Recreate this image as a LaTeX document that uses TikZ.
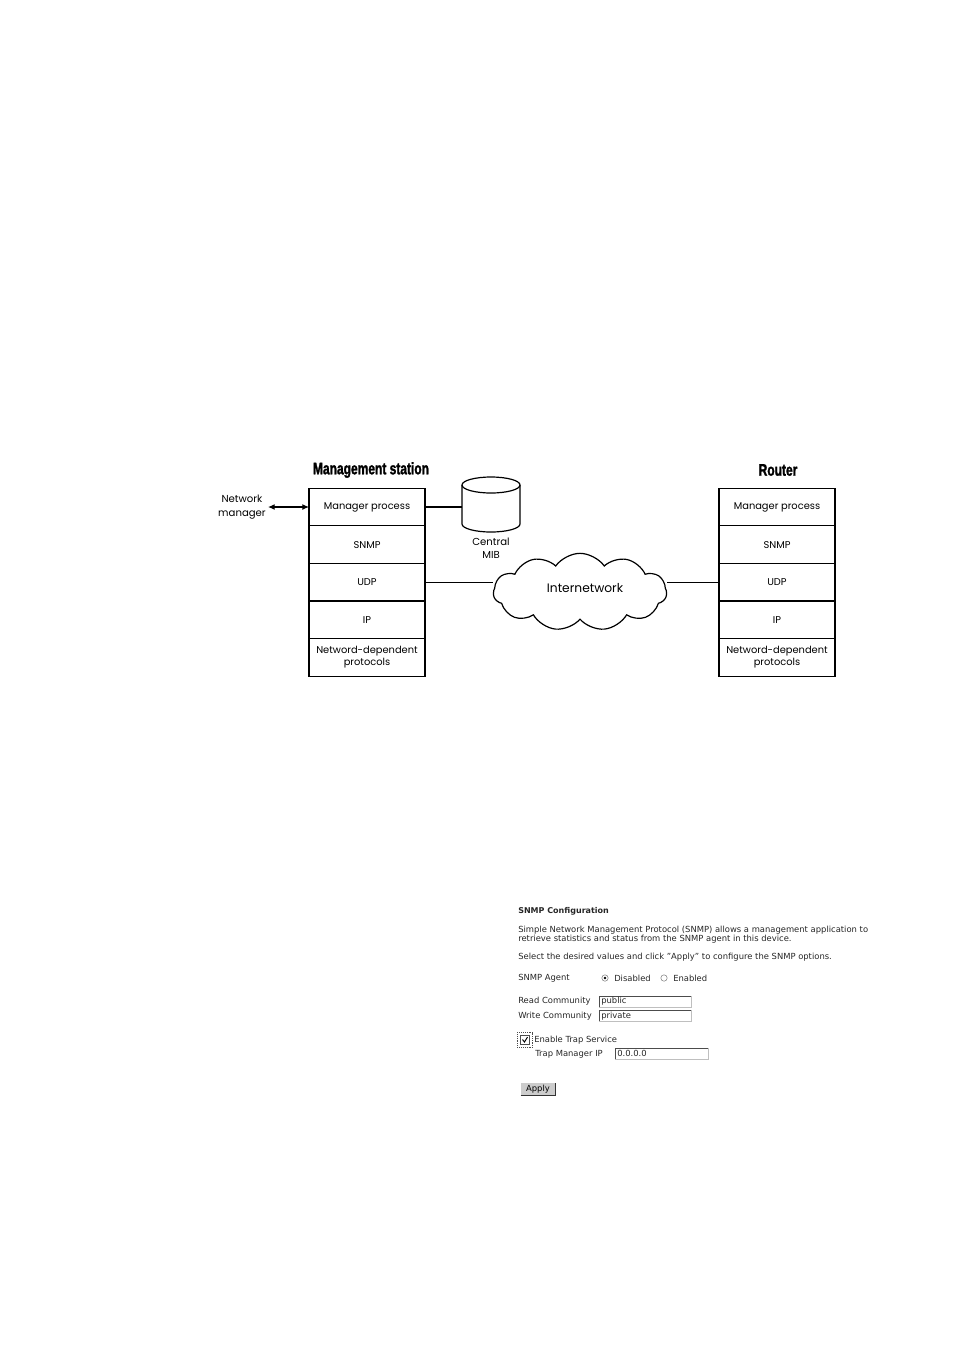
\documentclass[tikz,border=0pt]{standalone}
\usepackage{fontspec}
\setmainfont{DejaVu Sans}
\newfontfamily\gothfont{Poppins}
\newfontfamily\headfont[FakeStretch=0.72,FakeBold=1.6]{Liberation Sans Bold}
\usetikzlibrary{positioning,shapes.symbols,arrows.meta}

\tikzset{
  layer/.style={draw, line width=0.9pt, minimum width=87pt, minimum height=28.2pt,
    inner sep=0pt, outer sep=0pt, align=center,
    font=\gothfont\fontsize{7.4pt}{9pt}\selectfont},
  lbl/.style={inner sep=0pt, align=center, font=\gothfont\fontsize{7.6pt}{10pt}\selectfont},
  title/.style={inner sep=0pt, font=\headfont\fontsize{12.5pt}{14pt}\selectfont},
  link/.style={line width=0.9pt},
  ui/.style={inner sep=0pt, anchor=west, font=\fontsize{6.3pt}{7.5pt}\selectfont, text=black!85},
  field/.style={inner sep=0pt, outer sep=0pt, minimum width=69pt, minimum height=8.4pt, anchor=north west}
}

\begin{document}
\begin{tikzpicture}[x=0.75pt, y=-0.75pt]
    \useasboundingbox (0,0) rectangle (954,1350);

    % titles
    \node[title] (tstation) at (371,470) {Management station};
    \node[title] (trouter) at (778,470) {Router};

    % management station stack
    \node[layer] (mgrL) at (367,507) {Manager process};
    \node[layer, below=0pt of mgrL] (snmpL) {SNMP};
    \node[layer, below=0pt of snmpL] (udpL) {UDP};
    \node[layer, below=0pt of udpL] (ipL) {IP};
    \node[layer, below=0pt of ipL] (netL) {Netword-dependent\\protocols};

    % router stack
    \node[layer] (mgrR) at (777,507) {Manager process};
    \node[layer, below=0pt of mgrR] (snmpR) {SNMP};
    \node[layer, below=0pt of snmpR] (udpR) {UDP};
    \node[layer, below=0pt of udpR] (ipR) {IP};
    \node[layer, below=0pt of ipR] (netR) {Netword-dependent\\protocols};

    % network manager
    \node[lbl] (nm) at (242,507) {Network\\manager};
    \draw[link, {Latex[length=5pt,width=4.5pt]}-{Latex[length=5pt,width=4.5pt]}] (nm.east) ++(2,0) -- (mgrL.west);

    % central MIB
    \draw[link] (520,485) -- (520,524) arc[start angle=0, end angle=180, x radius=29, y radius=8] -- (462,485);
    \draw[link] (491,485) ellipse[x radius=29, y radius=8];
    \coordinate (mib) at (462,507);
    \node[lbl] (mibtxt) at (491,548) {Central\\MIB};
    \draw[link] (mgrL.east) -- (mib);

    % internetwork
    \node[cloud, draw, line width=0.9pt, cloud puffs=11, cloud puff arc=110, aspect=2.3,
          minimum width=130pt, minimum height=58pt, inner sep=0pt, outer sep=0pt] (inet) at (580,592) {};
    \node[lbl, font=\gothfont\fontsize{9.2pt}{11pt}\selectfont] (inettxt) at (585,588) {Internetwork};
    \draw[link] (udpL.east) -- (udpL.east -| inet.west);
    \draw[link] (udpR.west) -- (udpR.west -| inet.east);

    % SNMP configuration page
    \node[ui, font=\bfseries\fontsize{6pt}{7.2pt}\selectfont] (cfg) at (518,911) {SNMP Configuration};
    \node[ui] (desc1) at (518,930) {Simple Network Management Protocol (SNMP) allows a management application to};
    \node[ui] (desc2) at (518,939) {retrieve statistics and status from the SNMP agent in this device.};
    \node[ui] (desc3) at (518,957) {Select the desired values and click "Apply" to configure the SNMP options.};

    \node[ui] (agent) at (518,978) {SNMP Agent};
    \draw[gray] (605,978) circle[radius=3.2];
    \fill (605,978) circle[radius=1.3];
    \node[ui] (dis) at (614,978) {Disabled};
    \draw[gray] (664,978) circle[radius=3.2];
    \node[ui] (ena) at (673,978) {Enabled};

    \node[ui] (readc) at (518,1001) {Read Community};
    \node[field] (readf) at (599,996) {};
    \draw[gray!50] (readf.south west) -- (readf.south east) -- (readf.north east);
    \draw[black!70] (readf.south west) -- (readf.north west) -- (readf.north east);
    \node[ui] (pub) at (601,1001.5) {public};

    \node[ui] (writec) at (518,1016) {Write Community};
    \node[field] (writef) at (599,1010) {};
    \draw[gray!50] (writef.south west) -- (writef.south east) -- (writef.north east);
    \draw[black!70] (writef.south west) -- (writef.north west) -- (writef.north east);
    \node[ui] (priv) at (601,1016) {private};

    % trap service
    \node[draw, densely dotted, black!70, minimum width=11.5pt, minimum height=11pt, inner sep=0pt] (focus) at (525,1040) {};
    \node[draw, black!70, minimum width=6.5pt, minimum height=6.5pt, inner sep=0pt] (chk) at (525,1040) {};
    \draw[line width=0.7pt] (522.5,1039.5) -- (524.5,1042) -- (527.5,1037);
    \node[ui] (trap) at (534,1040) {Enable Trap Service};
    \node[ui] (trapip) at (535,1054) {Trap Manager IP};
    \node[field, minimum width=70pt] (trapf) at (615,1048) {};
    \draw[gray!50] (trapf.south west) -- (trapf.south east) -- (trapf.north east);
    \draw[black!70] (trapf.south west) -- (trapf.north west) -- (trapf.north east);
    \node[ui] (ipval) at (617,1053.5) {0.0.0.0};

    % apply button
    \node[fill=black!20, minimum width=25.5pt, minimum height=9pt, inner sep=0pt,
          font=\fontsize{6.3pt}{7.5pt}\selectfont] (apply) at (538,1089) {Apply};
    \draw[black!80, line width=0.7pt] (apply.south west) -- (apply.south east) -- (apply.north east);
    \draw[white] (apply.south west) -- (apply.north west) -- (apply.north east);
\end{tikzpicture}
\end{document}
